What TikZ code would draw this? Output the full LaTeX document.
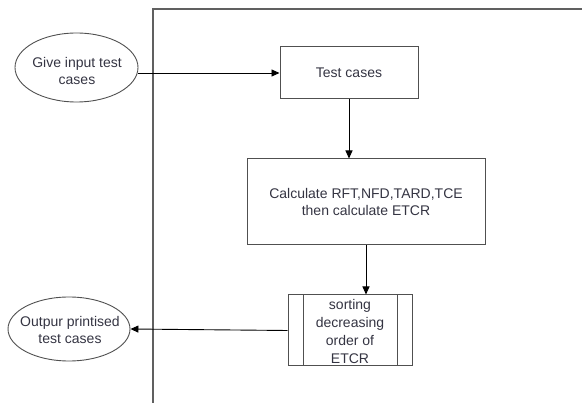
\documentclass[tikz,border=0pt]{standalone}
\usepackage{fontspec}
\setmainfont{Liberation Sans}
\usetikzlibrary{shapes.geometric,arrows.meta,calc}
\definecolor{txtc}{HTML}{343442}
\definecolor{linec}{HTML}{505050}
\definecolor{framec}{HTML}{606060}
\begin{document}
\begin{tikzpicture}[x=1pt,y=-1pt,
  txt/.style={text=txtc,font=\fontsize{14}{17.5}\selectfont,align=center,inner sep=0pt},
  oval/.style={ellipse,draw=linec,line width=0.9pt,inner sep=0pt},
  procbox/.style={rectangle,draw=linec,line width=1pt,inner sep=0pt},
  arr/.style={draw=black,line width=0.9pt,-{Triangle[length=8pt,width=7pt]}}]
\useasboundingbox (0,0) rectangle (582,403);
% frame
\coordinate (fb) at (153,403);
\coordinate (ft) at (153,9);
\coordinate (fr) at (582,9);
\draw[framec,line width=1.3pt] (fb) -- (ft) -- (fr);
% input ellipse
\node[oval,minimum width=123pt,minimum height=69pt] (e1) at (76.5,67.5) {};
\node[txt] (e1t) at (77,71) {Give input test\\cases};
% test cases box
\node[procbox,minimum width=138pt,minimum height=52pt] (tc) at (349,73) {};
\node[txt] (tct) at (tc) {Test cases};
% calc box
\node[procbox,minimum width=238pt,minimum height=86pt] (calc) at (366,202) {};
\node[txt] (calct) at (calc) {Calculate RFT,NFD,TARD,TCE\\then calculate ETCR};
% sorting box
\node[procbox,minimum width=124pt,minimum height=71pt] (sort) at (350,330.5) {};
\draw[linec,line width=1pt] ($(sort.north west)+(16,0)$) -- ($(sort.south west)+(16,0)$);
\draw[linec,line width=1pt] ($(sort.north east)+(-15,0)$) -- ($(sort.south east)+(-15,0)$);
\node[txt,font=\fontsize{14}{18}\selectfont] (sortt) at (350,331.5) {sorting\\decreasing\\order of\\ETCR};
% output ellipse
\node[oval,minimum width=122pt,minimum height=64pt] (e2) at (69,329) {};
\node[txt,font=\fontsize{14}{17}\selectfont] (e2t) at (70,330) {Outpur printised\\test cases};
% arrows
\draw[arr] (e1.east |- tc.west) -- (tc.west);
\draw[arr] (tc.south) -- (tc.south |- calc.north);
\draw[arr] (calc.south) -- (calc.south |- sort.north);
\draw[arr] (sort.west) -- (e2.east);
\end{tikzpicture}
\end{document}
